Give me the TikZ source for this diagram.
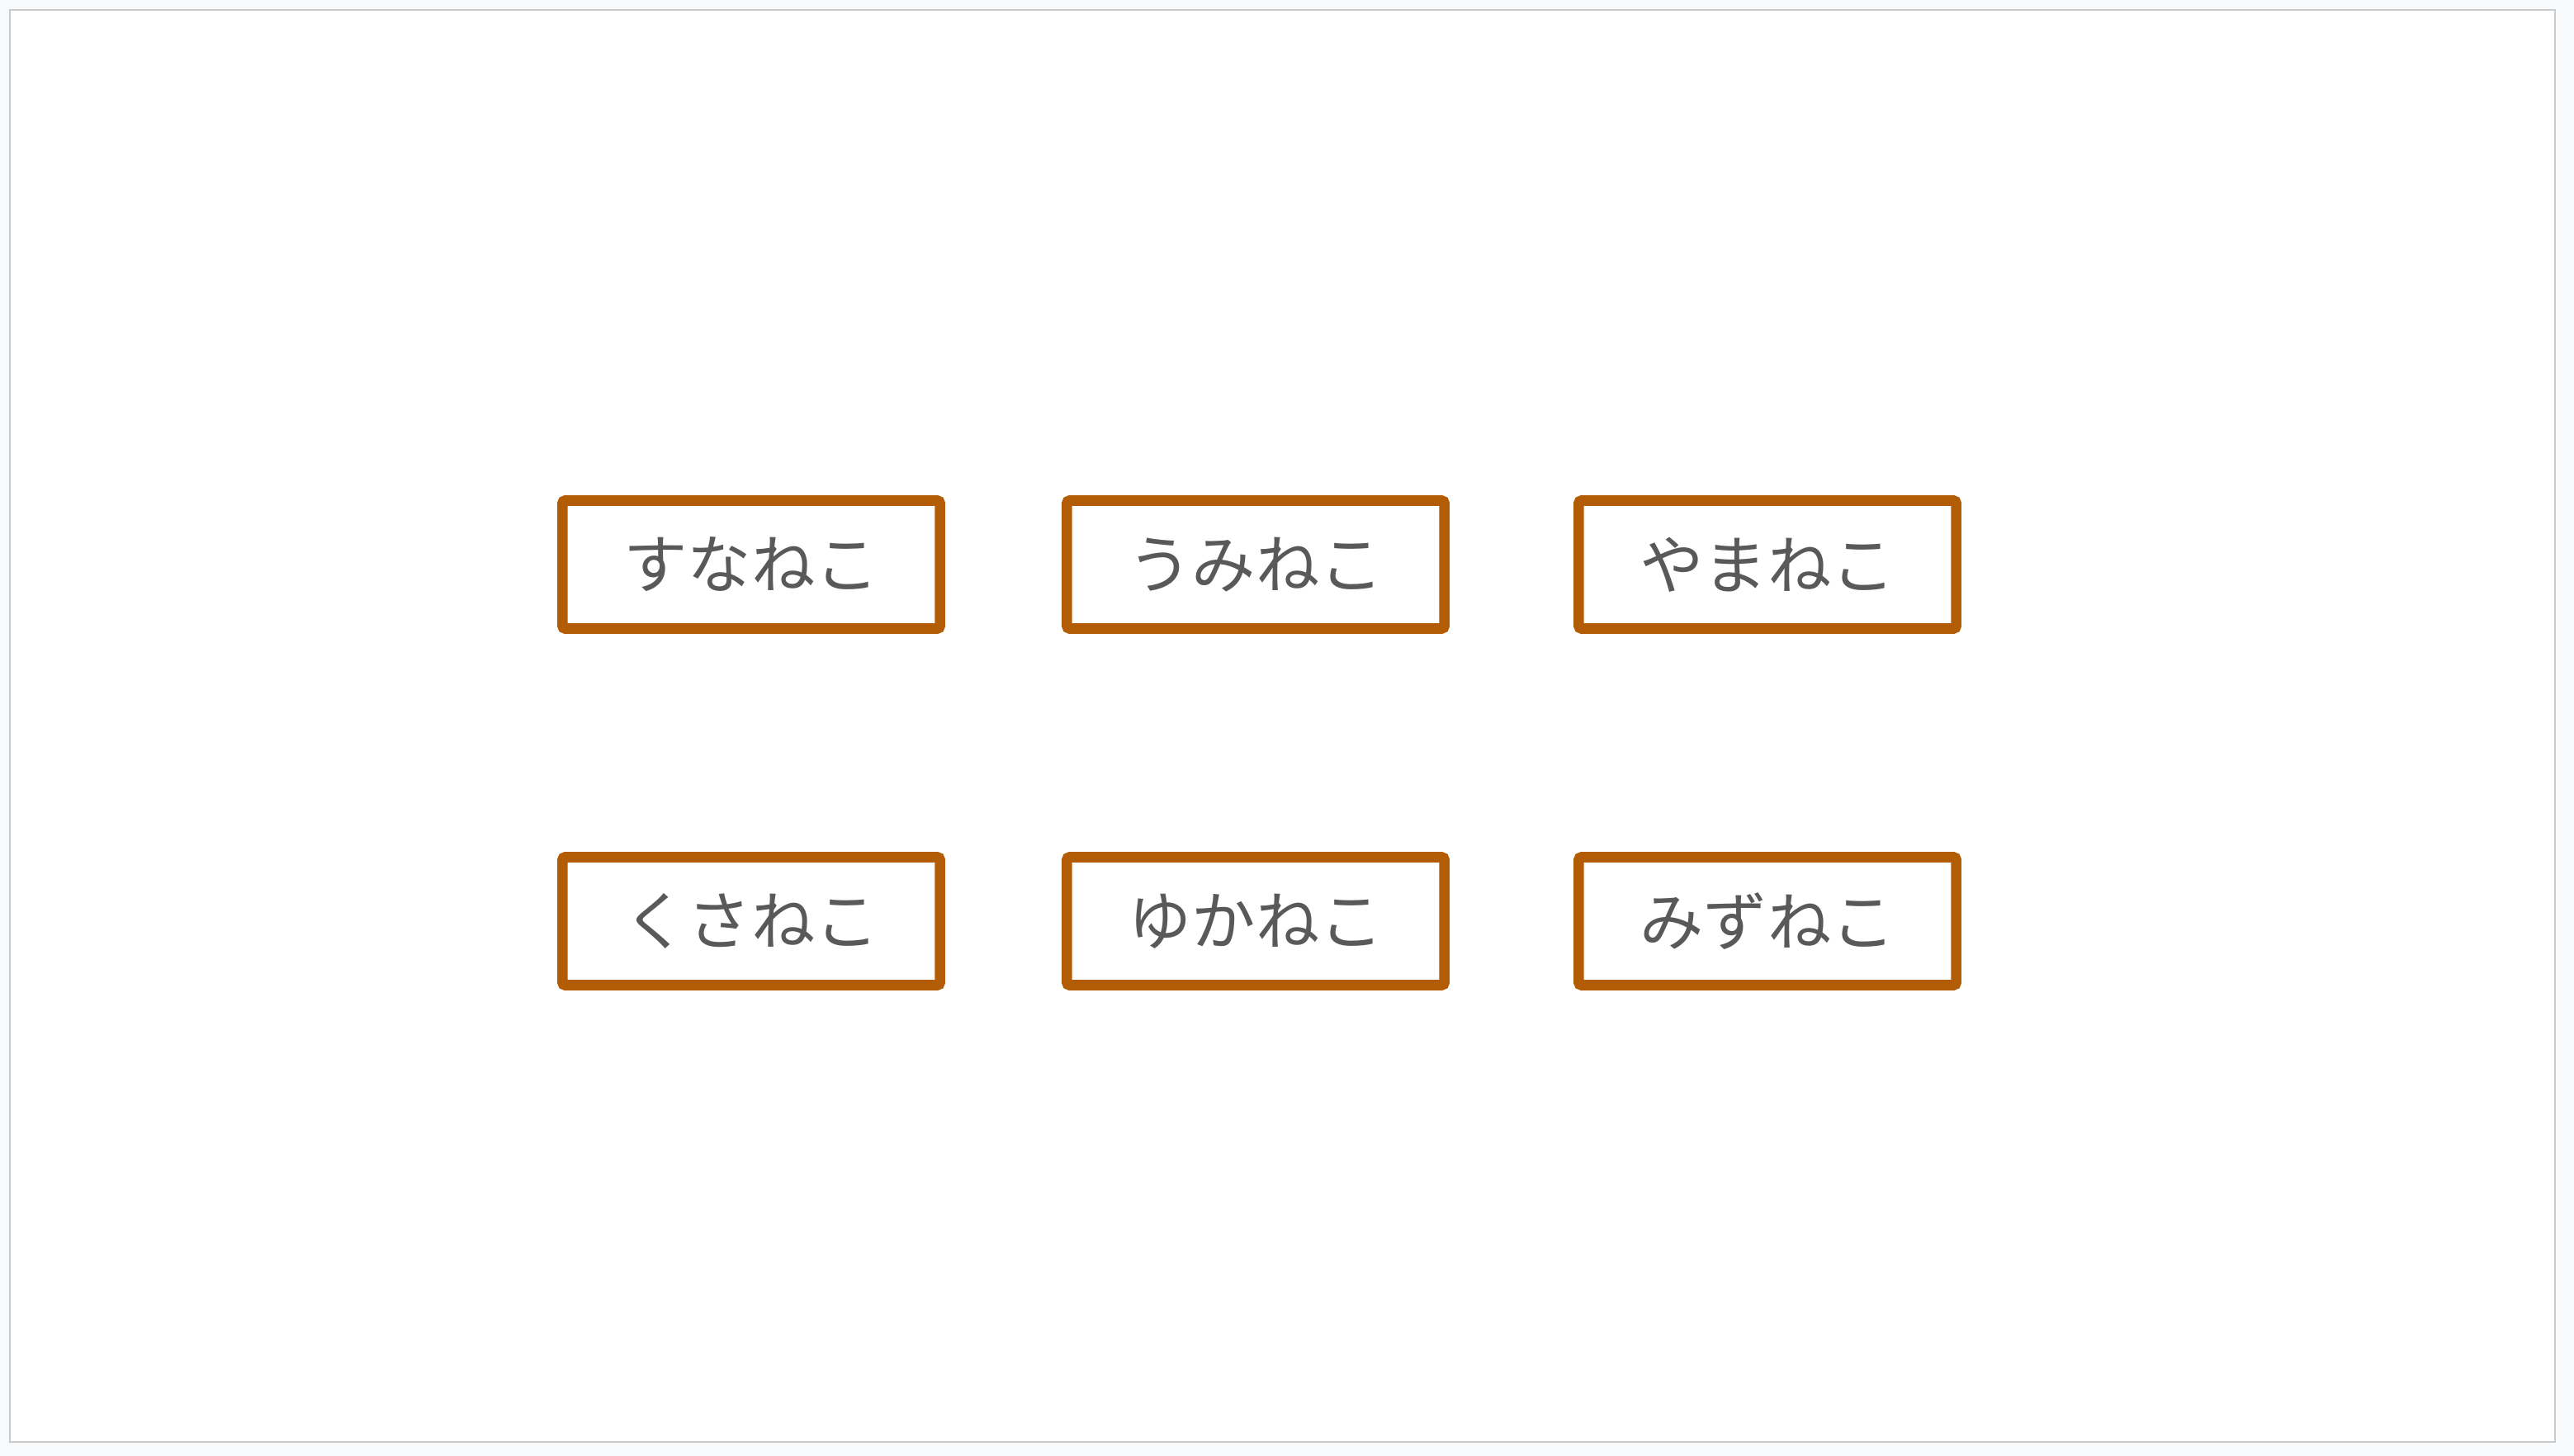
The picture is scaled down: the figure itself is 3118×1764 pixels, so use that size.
\documentclass[tikz,border=0pt]{standalone}
\usepackage{fontspec}
\newfontfamily\jpfont{Noto Sans CJK JP}
\definecolor{nekoorange}{HTML}{B35C06}
\definecolor{nekotext}{HTML}{595959}
\definecolor{pagebg}{HTML}{F8F9FB}
\definecolor{pageline}{HTML}{C9CACC}
\tikzset{
  nekobox/.style={draw=nekoorange, line width=3.6pt, rounded corners=1pt,
    fill=white, minimum width=4.57cm, minimum height=1.55cm,
    font=\jpfont\fontsize{22}{26}\selectfont, text=nekotext}
}

\begin{document}
\begin{tikzpicture}[x=0.01cm,y=-0.01cm]
  % page
  \fill[pagebg] (0,0) rectangle (3118,1764);
  \draw[pageline, fill=white, line width=0.5pt] (12,12) rectangle (3095,1747);
  \useasboundingbox (0,0) rectangle (3118,1764);

  % first row
  \node[nekobox] (suna) at (910,684) {すなねこ};
  \node[nekobox] (umi) at (1521,684) {うみねこ};
  \node[nekobox] (yama) at (2141,684) {やまねこ};
  % second row
  \node[nekobox] (kusa) at (910,1116) {くさねこ};
  \node[nekobox] (yuka) at (1521,1116) {ゆかねこ};
  \node[nekobox] (mizu) at (2141,1116) {みずねこ};
\end{tikzpicture}
\end{document}
